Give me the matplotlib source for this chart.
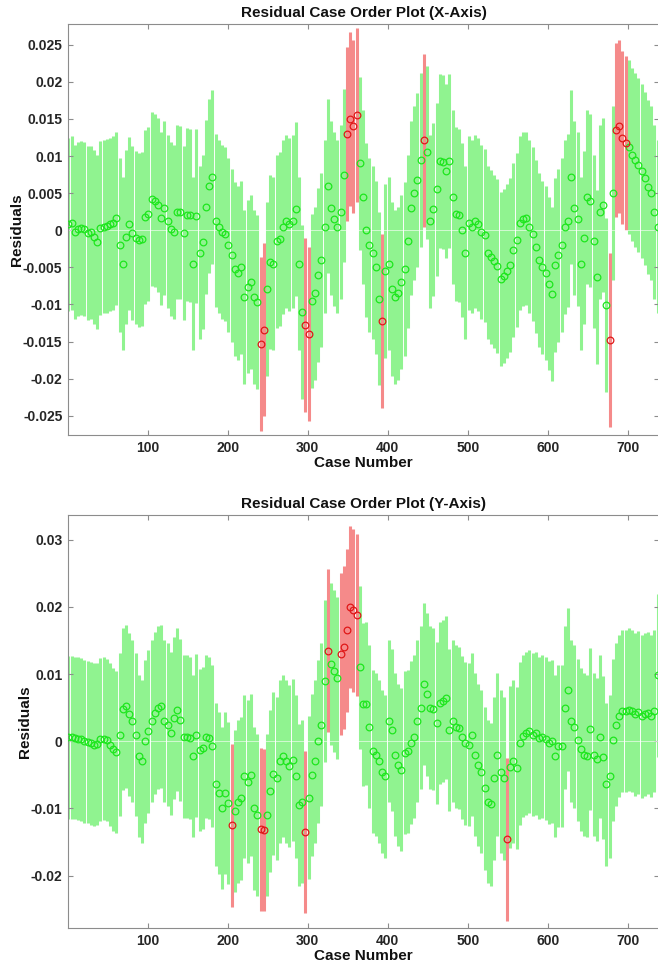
import numpy as np
import matplotlib
matplotlib.use("Agg")
import matplotlib.pyplot as plt

plt.rcParams['font.family'] = ['Liberation Sans', 'DejaVu Sans']
plt.rcParams['font.weight'] = 'bold'

# case numbers (every 4th case)
cases = np.arange(1, 740, 4)

# residuals, X axis
resid_x = [
    0.0008, 0.0010, -0.0002, 0.0002, 0.0003, 0.0002, -0.0004, -0.0003, -0.0009, -0.0016,
    0.0003, 0.0005, 0.0006, 0.0008, 0.0010, 0.0016, -0.0020, -0.0045, -0.0009, 0.0009,
    -0.0004, -0.0010, -0.0013, -0.0012, 0.0018, 0.0022, 0.0042, 0.0040, 0.0034, 0.0016,
    0.0030, 0.0012, 0.0002, -0.0002, 0.0025, 0.0024, -0.0004, 0.0021, 0.0020, -0.0045,
    0.0019, -0.0030, -0.0016, 0.0031, 0.0060, 0.0072, 0.0013, 0.0005, -0.0002, -0.0005,
    -0.0020, -0.0034, -0.0052, -0.0058, -0.0050, -0.0090, -0.0076, -0.0070, -0.0090, -0.0097,
    -0.0153, -0.0134, -0.0079, -0.0043, -0.0045, -0.0015, -0.0012, 0.0004, 0.0012, 0.0008,
    0.0012, 0.0029, -0.0045, -0.0110, -0.0128, -0.0140, -0.0095, -0.0085, -0.0060, -0.0040,
    0.0005, 0.0060, 0.0030, 0.0015, 0.0005, 0.0025, 0.0074, 0.0130, 0.0150, 0.0140,
    0.0155, 0.0090,
    0.0045, 0.0000, -0.0020, -0.0030, -0.0050, -0.0092, -0.0122, -0.0055, -0.0045, -0.0079,
    -0.0090, -0.0085, -0.0070, -0.0052, -0.0015, 0.0030, 0.0050, 0.0068, 0.0095, 0.0121,
    0.0105, 0.0012, 0.0028, 0.0055, 0.0093, 0.0092, 0.0080, 0.0093, 0.0045, 0.0022,
    0.0020, 0.0000, -0.0030, 0.0010, 0.0005, 0.0012, 0.0008, -0.0002, -0.0007, -0.0030,
    -0.0036, -0.0042, -0.0048, -0.0066, -0.0062, -0.0055, -0.0047, -0.0027, -0.0013, 0.0010,
    0.0015, 0.0016, 0.0005, -0.0005, -0.0022, -0.0040, -0.0050, -0.0058, -0.0072, -0.0086,
    -0.0047, -0.0034, -0.0020, 0.0004, 0.0013, 0.0072, 0.0030, 0.0015, -0.0045, -0.0010,
    0.0045, 0.0040, -0.0015, -0.0063, 0.0025, 0.0034, -0.0101, -0.0148, 0.0050, 0.0135,
    0.0140, 0.0125, 0.0118, 0.0112, 0.0102, 0.0095, 0.0088, 0.0080, 0.0070, 0.0058,
    0.0050, 0.0025, 0.0005,
]

# residuals, Y axis
resid_y = [
    0.0006, 0.0006, 0.0005, 0.0004, 0.0003, 0.0000, -0.0001, -0.0003, -0.0005, -0.0004,
    0.0003, 0.0004, 0.0002, -0.0005, -0.0012, -0.0016, 0.0010, 0.0048, 0.0052, 0.0040,
    0.0030, 0.0010, -0.0022, -0.0030, 0.0000, 0.0015, 0.0030, 0.0042, 0.0050, 0.0052,
    0.0030, 0.0025, 0.0012, 0.0035, 0.0047, 0.0032, 0.0007, 0.0007, 0.0005, -0.0022,
    0.0009, -0.0013, -0.0010, 0.0007, 0.0005, -0.0007, -0.0064, -0.0077, -0.0099, -0.0077,
    -0.0092, -0.0125, -0.0104, -0.0090, -0.0085, -0.0052, -0.0060, -0.0050, -0.0100, -0.0110,
    -0.0131, -0.0132, -0.0110, -0.0074, -0.0048, -0.0055, -0.0030, -0.0022, -0.0030, -0.0037,
    -0.0028, -0.0052, -0.0095, -0.0090, -0.0135, -0.0084, -0.0050, -0.0030, 0.0000, 0.0025,
    0.0090, 0.0135, 0.0115, 0.0105, 0.0094, 0.0130, 0.0140, 0.0165, 0.0200, 0.0195,
    0.0188, 0.0110,
    0.0055, 0.0056, 0.0022, -0.0015, -0.0020, -0.0030, -0.0045, -0.0052, 0.0030, 0.0017,
    -0.0020, -0.0035, -0.0042, -0.0017, -0.0015, -0.0002, 0.0007, 0.0030, 0.0050, 0.0085,
    0.0070, 0.0050, 0.0048, 0.0027, 0.0057, 0.0060, 0.0065, 0.0017, 0.0030, 0.0022,
    0.0020, 0.0006, -0.0003, -0.0005, 0.0010, -0.0020, -0.0035, -0.0045, -0.0070, -0.0090,
    -0.0094, -0.0055, -0.0020, -0.0045, -0.0055, -0.0146, -0.0038, -0.0030, -0.0040, -0.0003,
    0.0008, 0.0012, 0.0015, 0.0010, 0.0012, 0.0005, 0.0007, 0.0004, -0.0002, 0.0000,
    -0.0022, -0.0007, -0.0007, 0.0050, 0.0077, 0.0030, 0.0022, 0.0002, -0.0012, -0.0020,
    -0.0022, 0.0018, -0.0020, -0.0027, 0.0007, -0.0024, -0.0064, -0.0052, 0.0002, 0.0025,
    0.0038, 0.0045, 0.0045, 0.0047, 0.0045, 0.0040, 0.0043, 0.0037, 0.0040, 0.0042,
    0.0038, 0.0045, 0.0098,
]

# half width of the confidence intervals
half_width_x = 0.0117
half_width_y = 0.0121

titles = ['Residual Case Order Plot (X-Axis)', 'Residual Case Order Plot (Y-Axis)']
yticks_x = [-0.025, -0.02, -0.015, -0.01, -0.005, 0, 0.005, 0.01, 0.015, 0.02, 0.025]
yticks_y = [-0.02, -0.01, 0, 0.01, 0.02, 0.03]
ylim_x = (-0.0276, 0.0278)
ylim_y = (-0.0278, 0.0337)
xticks = [100, 200, 300, 400, 500, 600, 700]

fig = plt.figure(figsize=(6.58, 9.68), dpi=100)
ax1 = fig.add_axes([0.1033, 0.5506, 0.8985, 0.4246])
ax2 = fig.add_axes([0.1033, 0.0413, 0.8985, 0.4267])


def rcoplot(ax, r, hw, title, yticks, ylim):
    r = np.array(r)
    lo = r - hw
    hi = r + hw
    out = (lo > 0) | (hi < 0)
    ok = ~out
    ax.vlines(cases[ok], lo[ok], hi[ok], colors='#90f390', linewidth=2.2, zorder=1)
    ax.vlines(cases[out], lo[out], hi[out], colors='#f58a8a', linewidth=2.2, zorder=1)
    ax.axhline(0, color='white', linewidth=0.7, alpha=0.6, zorder=2)
    ax.plot(cases[ok], r[ok], 'o', mfc='none', mec='#1ee61e', ms=4.8, mew=0.9, zorder=3)
    ax.plot(cases[out], r[out], 'o', mfc='none', mec='#e01818', ms=4.8, mew=0.9, zorder=3)
    ax.set_xlim(0.5, 739)
    ax.set_ylim(*ylim)
    ax.set_xticks(xticks)
    ax.set_yticks(yticks)
    ax.set_yticklabels(['%g' % v for v in yticks])
    ax.tick_params(direction='in', length=3.6, width=0.8, color='#8c8c8c',
                   top=True, right=True, labelsize=10, labelcolor='#262626', pad=4)
    for s in ax.spines.values():
        s.set_color('#8c8c8c')
        s.set_linewidth(0.8)
    ax.set_title(title, fontsize=11, fontweight='bold', color='#111111', pad=5)
    ax.set_xlabel('Case Number', fontsize=11, fontweight='bold', color='#111111', labelpad=1)
    ax.set_ylabel('Residuals', fontsize=11, fontweight='bold', color='#111111', labelpad=-1)


rcoplot(ax1, resid_x, half_width_x, titles[0], yticks_x, ylim_x)
rcoplot(ax2, resid_y, half_width_y, titles[1], yticks_y, ylim_y)

fig.savefig('out.png', dpi=100)
